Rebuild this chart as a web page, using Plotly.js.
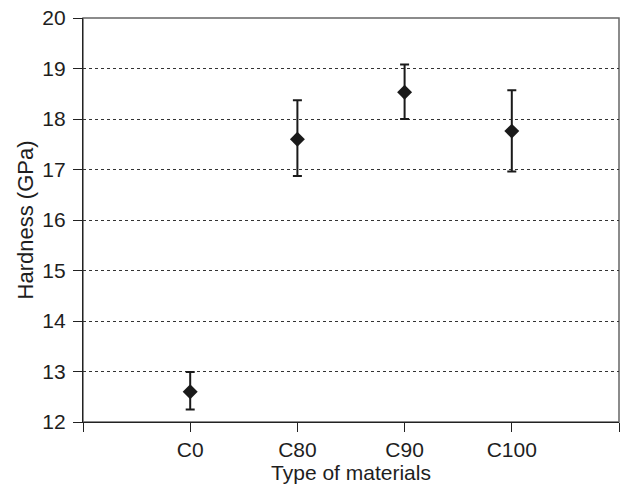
<!DOCTYPE html>
<html>
<head>
<meta charset="utf-8">
<script src="https://cdn.plot.ly/plotly-3.0.1.min.js"></script>
<style>html,body{margin:0;padding:0;background:#fff;}#chart{width:621px;height:486px;}</style>
</head>
<body>
<div id="chart"></div>
<script>
const categories = ["C0", "C80", "C90", "C100"];
const hardness = [12.6, 17.6, 18.53, 17.76];
const errPlus = [0.39, 0.77, 0.55, 0.81];
const errMinus = [0.35, 0.73, 0.53, 0.80];
const yTicks = [12, 13, 14, 15, 16, 17, 18, 19, 20];

const xPos = categories.map((c, i) => i);
const xTickVals = [-1].concat(xPos, [categories.length]);
const xTickText = [""].concat(categories, [""]);

const fam = "Liberation Sans, Arial, sans-serif";
const font = {family: fam, size: 21, color: "#1e1e1e"};
const yTitleFont = {family: fam, size: 22, color: "#1e1e1e"};

const trace = {
  type: "scatter",
  mode: "markers",
  x: xPos,
  y: hardness,
  marker: {symbol: "diamond", size: 11.5, color: "#1a1a1a"},
  error_y: {type: "data", symmetric: false, array: errPlus, arrayminus: errMinus,
            color: "#1a1a1a", thickness: 2, width: 4.5},
  hoverinfo: "none"
};

const layout = {
  width: 621, height: 486,
  margin: {l: 83, r: 2, t: 18, b: 64},
  paper_bgcolor: "#fff", plot_bgcolor: "#fff",
  showlegend: false,
  font: font,
  xaxis: {
    range: [-1, categories.length],
    tickmode: "array", tickvals: xTickVals, ticktext: xTickText,
    ticks: "outside", ticklen: 9, tickwidth: 1, tickcolor: "#222",
    showline: true, linecolor: "#222", linewidth: 1,
    showgrid: false, zeroline: false,
    tickfont: font,
    title: {text: "Type of materials", font: font, standoff: 2}
  },
  yaxis: {
    range: [12, 20],
    tickmode: "array", tickvals: yTicks,
    ticks: "outside", ticklen: 9, tickwidth: 1, tickcolor: "#222",
    ticklabelstandoff: 3,
    showline: true, linecolor: "#222", linewidth: 1.2,
    showgrid: true, gridcolor: "#333", griddash: "dot", gridwidth: 1,
    zeroline: false,
    tickfont: font,
    title: {text: "Hardness (GPa)", font: yTitleFont, standoff: 2}
  },
  shapes: [{
    type: "rect", xref: "paper", yref: "paper", x0: 0, x1: 1, y0: 0, y1: 1,
    line: {color: "#666", width: 1.5}, layer: "below"
  }]
};

Plotly.newPlot("chart", [trace], layout, {displayModeBar: false, staticPlot: true});
</script>
</body>
</html>
